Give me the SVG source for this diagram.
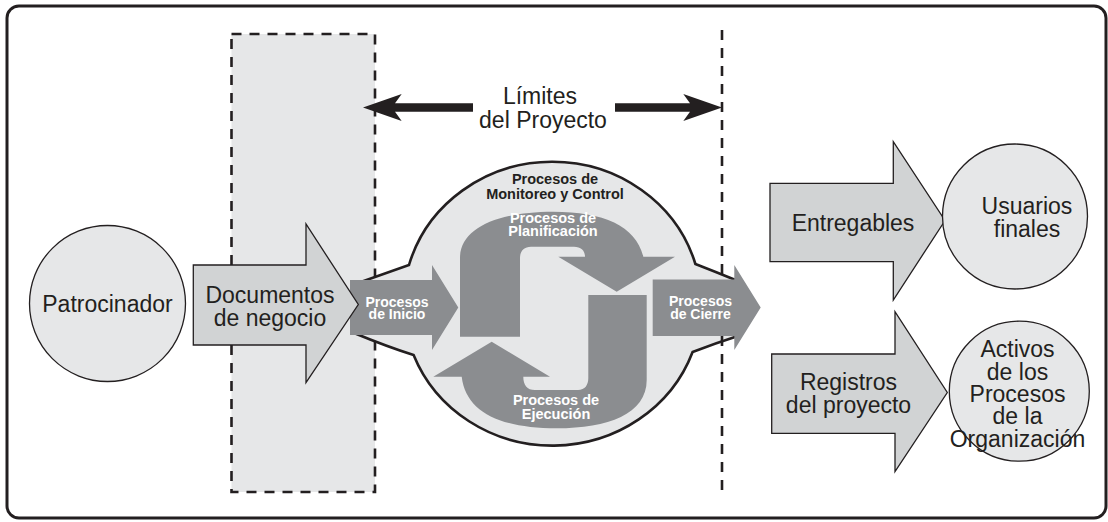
<svg xmlns="http://www.w3.org/2000/svg" width="1108" height="522" viewBox="0 0 1108 522">
<style>
.lbl{font-family:"Liberation Sans",Arial,sans-serif;font-size:23px;fill:#231f20;text-anchor:middle}
.bw{font-family:"Liberation Sans",Arial,sans-serif;font-weight:bold;font-size:14px;fill:#ffffff;text-anchor:middle}
.bk{font-family:"Liberation Sans",Arial,sans-serif;font-weight:bold;font-size:14.5px;fill:#231f20;text-anchor:middle}
.circ{fill:#e6e7e8;stroke:#231f20;stroke-width:1.3}
.light{fill:#d1d3d4;stroke:#231f20;stroke-width:1.3;stroke-linejoin:miter}
.dark{fill:#8b8d90;stroke:none}
.dash{fill:none;stroke:#231f20;stroke-width:2.6;stroke-dasharray:10 8}
</style>
<rect id="frame" x="7" y="6" width="1099" height="512" rx="12" ry="12" fill="#ffffff" stroke="#231f20" stroke-width="3"/>

<g id="area-previa">
<rect x="231.5" y="34" width="143.5" height="458" fill="#e6e7e8"/>
<rect x="231.5" y="34" width="143.5" height="458" class="dash"/>
</g>

<g id="monitoreo-control">
<path d="M 358,283 Q 386,273 409,265 A 149 142 0 0 1 695.4,264 Q 716,272 738,281 L 738,336 Q 716,343 692.6,352 A 149 142 0 0 1 413.6,355 Q 388,347 354,333 Z" fill="#e6e7e8" stroke="#231f20" stroke-width="2.6" stroke-linejoin="miter"/>
<text class="bk"><tspan x="555" y="183.5">Procesos de</tspan><tspan x="555" y="199">Monitoreo y Control</tspan></text>
</g>

<line id="limite-final" x1="722" y1="30" x2="722" y2="494" class="dash"/>

<g id="planificacion">
<path class="dark" d="M 460,336.7 L 460,258 C 460,228 498,211.7 553,211.7 C 604,211.7 636,226 643.3,256.7 L 675,256.7 L 616.7,291.7 L 558.3,256.7 L 585,256.7 C 585,250.5 581,246.7 574,246.7 L 531,246.7 C 524,246.7 520,251 520,258 L 520,336.7 Z"/>
<text class="bw" font-size="14.5"><tspan x="553" y="222.5" style="font-size:14.5px">Procesos de</tspan><tspan x="553" y="236" style="font-size:14.5px">Planificación</tspan></text>
</g>

<g id="ejecucion">
<path class="dark" d="M 588.3,295 L 646.7,295 L 646.7,380 C 646.7,414 608,428.3 556.7,428.3 C 500,428.3 466,412 461.7,376.7 L 433.3,376.7 L 491.7,341.7 L 550,376.7 L 523.3,376.7 C 523.3,385 527,390 535,390 L 578,390 C 585,390 588.3,385 588.3,378 Z"/>
<text class="bw"><tspan x="556" y="405" style="font-size:14.5px">Procesos de</tspan><tspan x="556" y="418.5" style="font-size:14.5px">Ejecución</tspan></text>
</g>

<g id="inicio">
<polygon class="dark" points="350,280 432,280 432,265 458.3,307.5 432,350 432,335 350,335"/>
<text class="bw"><tspan x="397" y="306.5">Procesos</tspan><tspan x="397" y="319.3">de Inicio</tspan></text>
</g>

<g id="cierre">
<polygon class="dark" points="652.7,279.5 734.3,279.5 734.3,265 760.7,307.5 734.3,350 734.3,336 652.7,336"/>
<text class="bw"><tspan x="700.5" y="306.3">Procesos</tspan><tspan x="700.5" y="319.3">de Cierre</tspan></text>
</g>

<g id="patrocinador">
<circle class="circ" cx="107.5" cy="303.5" r="78"/>
<text class="lbl" x="107.5" y="312">Patrocinador</text>
</g>

<g id="documentos-negocio">
<polygon class="light" points="193.3,265 306,265 306,224 358.3,304.5 306,382.7 306,345 193.3,345"/>
<text class="lbl"><tspan x="270" y="303">Documentos</tspan><tspan x="270" y="326">de negocio</tspan></text>
</g>

<g id="connectors">
<polygon fill="#231f20" points="363,107.5 401.7,94 395,103.3 473,103.3 473,111.7 395,111.7 401.7,121"/>
<polygon fill="#231f20" points="615,103.3 690,103.3 683.3,94 722,107.5 683.3,121 690,111.7 615,111.7"/>
</g>
<g id="limites-label">
<text class="lbl"><tspan x="540" y="104">Límites</tspan><tspan x="543" y="128">del Proyecto</tspan></text>
</g>

<g id="entregables">
<polygon class="light" points="770,183.3 893.3,183.3 893.3,141.7 945,220.5 893.3,300 893.3,261.7 770,261.7"/>
<text class="lbl" x="853" y="230.5">Entregables</text>
</g>

<g id="usuarios-finales">
<circle class="circ" cx="1015" cy="216.5" r="72.5"/>
<text class="lbl"><tspan x="1027" y="214">Usuarios</tspan><tspan x="1027" y="236.5">finales</tspan></text>
</g>

<g id="registros-proyecto">
<polygon class="light" points="771.7,354 895,354 895,311.7 947.3,392.5 895,471.7 895,433.3 771.7,433.3"/>
<text class="lbl"><tspan x="848.5" y="390">Registros</tspan><tspan x="848.5" y="413">del proyecto</tspan></text>
</g>

<g id="activos-organizacion">
<circle class="circ" cx="1019.3" cy="391.2" r="70"/>
<text class="lbl"><tspan x="1017.5" y="357.3">Activos</tspan><tspan x="1017.5" y="379.5">de los</tspan><tspan x="1017.5" y="402">Procesos</tspan><tspan x="1017.5" y="424.3">de la</tspan><tspan x="1017.5" y="446.7">Organización</tspan></text>
</g>
</svg>
